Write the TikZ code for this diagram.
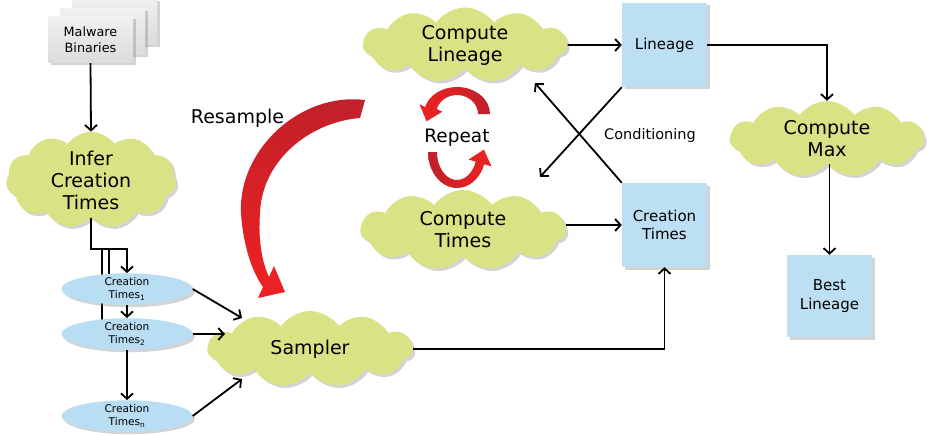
\documentclass[tikz,border=0pt]{standalone}
\usepackage{fontspec}
\setmainfont{DejaVu Sans}
\usetikzlibrary{shapes.symbols,shapes.geometric,shadows,arrows.meta,calc}
\definecolor{cloudgreen}{HTML}{D9E385}
\definecolor{boxblue}{HTML}{BDDFF3}
\definecolor{ellblue}{HTML}{B9DDF2}
\definecolor{reddark}{HTML}{C0202A}
\definecolor{redbright}{HTML}{EE2222}

\begin{document}
\begin{tikzpicture}[x=1pt,y=-1pt,
  arr/.style={line width=1.8pt, -{Straight Barb[length=5.5pt,width=12pt]}},
  plain/.style={line width=1.8pt},
  shad/.style={drop shadow={shadow xshift=2.5pt,shadow yshift=-2.5pt,opacity=0.35}},
  cloudnode/.style={cloud, cloud puffs=11, cloud puff arc=110, cloud ignores aspect,
    fill=cloudgreen, shad, inner sep=0pt, align=center, font=\fontsize{19}{22}\selectfont},
  sqbox/.style={rectangle, fill=boxblue, shad, minimum width=85pt, minimum height=84pt,
    align=center, font=\fontsize{15}{18.5}\selectfont, inner sep=0pt},
  ctell/.style={ellipse, fill=ellblue, shad, minimum width=131pt, minimum height=29pt,
    inner sep=0pt, align=center, font=\fontsize{10.6}{12.5}\selectfont},
  binbox/.style={rectangle, top color=gray!12, bottom color=gray!28, shad,
    minimum width=85pt, minimum height=46pt, inner sep=0pt, align=center,
    font=\fontsize{12.8}{16}\selectfont},
  lbl/.style={inner sep=0pt}
]
\useasboundingbox (0,0) rectangle (927,436);

% branch lines that run behind the first two ellipses
\coordinate (split) at (91,249);
\coordinate (ta) at (102,249);
\coordinate (ta2) at (102,325);
\coordinate (tb) at (109,249);
\coordinate (tb2) at (109,282);
\draw[plain] (ta) -- (ta2);
\draw[plain] (tb) -- (tb2);

% stack of malware binaries
\node[binbox] (mal3) at (114.5,22) {};
\node[binbox] (mal2) at (102.5,32) {};
\node[binbox] (mal) at (90.5,40) {Malware\\Binaries};

% clouds
\node[cloudnode, minimum width=170pt, minimum height=86pt] (infer) at (91,180) {Infer\\Creation\\Times};
\node[cloudnode, minimum width=205pt, minimum height=76pt] (sampler) at (310,349) {Sampler};
\node[cloudnode, minimum width=204pt, minimum height=75pt] (clin) at (465,45) {Compute\\Lineage};
\node[cloudnode, minimum width=205pt, minimum height=80pt] (ctim) at (463,230) {Compute\\Times};
\node[cloudnode, minimum width=194pt, minimum height=76pt] (cmax) at (827,139) {Compute\\Max};

% creation-time samples
\node[ctell] (ct1) at (127,289) {Creation\\Times\textsubscript{1}};
\node[ctell] (ct2) at (127,334) {Creation\\Times\textsubscript{2}};
\node[ctell] (ctn) at (127,416) {Creation\\Times\textsubscript{n}};

% result boxes
\node[sqbox] (lin) at (664.5,45) {Lineage};
\node[sqbox] (ctb) at (664.5,225) {Creation\\Times};
\node[sqbox, minimum height=82pt] (best) at (829.5,296) {Best\\Lineage};

% labels
\node[lbl, font=\fontsize{19}{22}\selectfont] (resample) at (237.5,118) {Resample};
\node[lbl, font=\fontsize{18.5}{22}\selectfont] (repeat) at (457,138) {Repeat};
\node[lbl, font=\fontsize{14.5}{17}\selectfont] (cond) at (650,135) {Conditioning};

% connectors
\coordinate (condA) at (540,177);
\coordinate (condB) at (535,83);
\draw[arr] (mal.south) -- (infer.north);
\draw[arr] (infer.south) -- (split) -| (ct1.north);
\draw[arr] (ct1.south) -- (ct2.north);
\draw[arr] (ct2.south) -- (ctn.north);
\draw[arr] (ct1.east) -- ($(sampler.center)+(-68,-31)$);
\draw[arr] (ct2.east) -- ($(sampler.center)+(-85,-15)$);
\draw[arr] (ctn.east) -- ($(sampler.center)+(-68,30)$);
\draw[arr] (sampler.east) -| (ctb.south);
\draw[arr] (clin.east) -- (lin.west);
\draw[arr] (ctb.west -| ctim.east) -- (ctb.west);
\draw[arr] (lin.south west) -- (condA);
\draw[arr] (ctb.north west) -- (condB);
\draw[arr] (lin.east) -| (cmax.north);
\draw[arr] (cmax.south -| best.north) -- (best.north);

% resample arrow
\shade[top color=reddark, bottom color=redbright]
  (365,100) .. controls (300,92) and (238,150) .. (241,213)
  .. controls (243,245) and (252,272) .. (263,287)
  -- (258,298) -- (285,292) -- (274,266) -- (269,277)
  .. controls (262,262) and (258,240) .. (260,213)
  .. controls (262,160) and (310,122) .. (360,118) -- cycle;

% repeat arrows
\shade[left color=redbright, right color=reddark]
  (490,114) arc[start angle=0, end angle=-165, x radius=33, y radius=27]
  -- (419.5,104.3) -- (426.6,121.3) -- (442.3,111.7) -- (436.7,109.1)
  arc[start angle=-165, end angle=0, x radius=21, y radius=19] -- cycle;
\shade[left color=reddark, right color=redbright]
  (428,152) arc[start angle=180, end angle=20, x radius=29, y radius=36]
  -- (491.5,166.4) -- (483.9,149.6) -- (468.5,159.6) -- (475.8,161.6)
  arc[start angle=20, end angle=180, x radius=20, y radius=28] -- cycle;
\end{tikzpicture}
\end{document}
